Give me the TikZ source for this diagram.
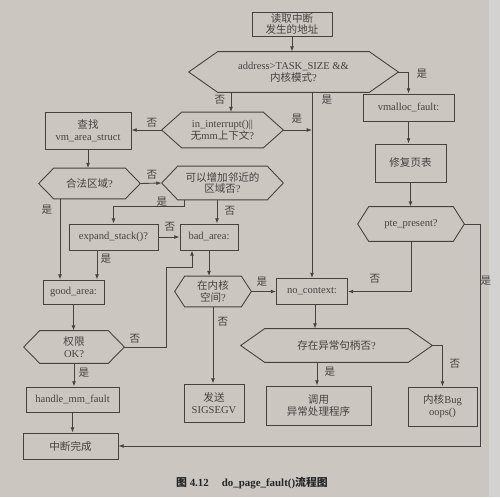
\documentclass[tikz,border=0pt]{standalone}
\usepackage{fontspec}
\setmainfont{Liberation Serif}
\newfontfamily\cjk{Noto Sans CJK SC}
\usetikzlibrary{arrows.meta,calc}
\definecolor{paper}{RGB}{203,198,192}
\definecolor{paperedge}{RGB}{212,210,208}
\definecolor{ink}{RGB}{70,66,64}
\newcommand\zh[1]{{\cjk #1}}
\newcommand\hexframe[2]{\draw[ln] (#1.west) -- ([xshift=#2]#1.north west) -- ([xshift=-#2]#1.north east) -- (#1.east) -- ([xshift=-#2]#1.south east) -- ([xshift=#2]#1.south west) -- cycle;}
\begin{document}
\begin{tikzpicture}[x=0.02cm,y=-0.02cm,
  every node/.style={font=\fontsize{6}{6.7}\selectfont, text=ink},
  box/.style={draw=ink, line width=0.5pt, rectangle, inner sep=0pt, align=center},
  hexa/.style={rectangle, inner sep=0pt, align=center},
  ln/.style={draw=ink, line width=0.5pt},
  arr/.style={ln, -{Latex[length=3pt,width=2.2pt]}},
  lab/.style={inner sep=0pt}]
\fill[paper] (0,0) rectangle (500,497);
\fill[paperedge] (489,0) rectangle (500,497);

% nodes
\node[box, minimum width=1.6cm, minimum height=0.48cm] (read) at (292,24) {\zh{读取中断}\\\zh{发生的地址}};
\node[hexa, minimum width=4.18cm, minimum height=0.8cm] (addr) at (293.5,72) {address>TASK\_SIZE \&\&\\\zh{内核模式}?};
\hexframe{addr}{0.58cm}
\node[box, minimum width=1.82cm, minimum height=0.54cm] (vmf) at (408.5,107.5) {vmalloc\_fault:};
\node[box, minimum width=1.42cm, minimum height=0.76cm] (fix) at (410.5,163) {\zh{修复页表}};
\node[hexa, minimum width=2.12cm, minimum height=0.68cm] (pte) at (411,224) {pte\_present?};
\hexframe{pte}{0.22cm}
\node[box, minimum width=1.42cm, minimum height=0.52cm] (noctx) at (312,291.5) {no\_context:};
\node[hexa, minimum width=2.42cm, minimum height=0.70cm] (intr) at (222.5,130) {in\_interrupt()||\\\zh{无}mm\zh{上下文}?};
\hexframe{intr}{0.4cm}
\node[box, minimum width=1.72cm, minimum height=0.74cm] (find) at (88,131) {\zh{查找}\\vm\_area\_struct};
\node[hexa, minimum width=2.02cm, minimum height=0.6cm] (legal) at (89.5,183.5) {\zh{合法区域}?};
\hexframe{legal}{0.3cm}
\node[hexa, minimum width=2.42cm, minimum height=0.66cm] (grow) at (222.5,183) {\zh{可以增加邻近的}\\\zh{区域否}?};
\hexframe{grow}{0.32cm}
\node[box, minimum width=1.78cm, minimum height=0.52cm] (expand) at (113.5,237) {expand\_stack()?};
\node[box, minimum width=1.16cm, minimum height=0.52cm] (bad) at (209,237) {bad\_area:};
\node[box, minimum width=1.22cm, minimum height=0.48cm] (good) at (73.5,292) {good\_area:};
\node[hexa, minimum width=2.0cm, minimum height=0.64cm] (perm) at (74,347) {\zh{权限}\\OK?};
\hexframe{perm}{0.32cm}
\node[hexa, minimum width=1.52cm, minimum height=0.6cm] (kern) at (213,291.5) {\zh{在内核}\\\zh{空间}?};
\hexframe{kern}{0.2cm}
\node[box, minimum width=1.2cm, minimum height=0.76cm] (sig) at (214,403) {\zh{发送}\\SIGSEGV};
\node[box, minimum width=1.86cm, minimum height=0.5cm] (hmf) at (72.5,399.5) {handle\_mm\_fault};
\node[box, minimum width=1.9cm, minimum height=0.52cm] (done) at (70.5,446) {\zh{中断完成}};
\node[hexa, minimum width=3.82cm, minimum height=0.66cm] (exh) at (336.5,345.5) {\zh{存在异常句柄否}?};
\hexframe{exh}{0.48cm}
\node[box, minimum width=2.1cm, minimum height=0.78cm] (call) at (318.5,405.5) {\zh{调用}\\\zh{异常处理程序}};
\node[box, minimum width=1.38cm, minimum height=0.78cm] (bug) at (442.5,406.5) {\zh{内核}Bug\\oops()};

% helper coordinates
\coordinate (a1) at (231,0);
\coordinate (g1) at (184,206);
\coordinate (g2) at (217,0);
\coordinate (e1) at (97,0);
\coordinate (c1) at (60,0);
\coordinate (p1) at (166,267);
\coordinate (p2) at (192,0);
\coordinate (r1) at (480,0);
\coordinate (n1) at (315,0);
\coordinate (x1) at (317,0);

% connectors
\draw[arr] (read.south) -- (read.south |- addr.north);
\draw[arr] (addr.east) -| (vmf.north);
\draw[arr] (noctx.north |- addr.south) -- (noctx.north);
\draw[arr] (addr.south -| a1) -- (intr.north -| a1);
\draw[arr] (intr.east) -- (intr.east -| noctx.north);
\draw[arr] (intr.west) -- (find.east |- intr.west);
\draw[arr] (find.south) -- (find.south |- legal.north);
\draw[arr] (legal.east) -- (grow.west);
\draw[arr] (grow.south -| g1) -- (g1) -| (expand.north);
\draw[arr] (grow.south -| g2) -- (bad.north -| g2);
\draw[arr] (expand.east) -- (bad.west);
\draw[arr] (expand.south -| e1) -- (good.north -| e1);
\draw[arr] (legal.south -| c1) -- (good.north -| c1);
\draw[arr] (good.south) -- (good.south |- perm.north);
\draw[arr] (perm.east) -| (p1) -| (bad.south -| p2);
\draw[arr] (bad.south) -- (bad.south |- kern.north);
\draw[arr] (kern.east) -- (noctx.west);
\draw[arr] (kern.south) -- (kern.south |- sig.north);
\draw[arr] (perm.south) -- (perm.south |- hmf.north);
\draw[arr] (hmf.south) -- (hmf.south |- done.north);
\draw[arr] (vmf.south) -- (vmf.south |- fix.north);
\draw[arr] (fix.south) -- (fix.south |- pte.north);
\draw[arr] (pte.south) |- (noctx.east);
\draw[arr] (pte.east) -| (r1 |- done.east) -- (done.east);
\draw[arr] (noctx.south -| n1) -- (exh.north -| n1);
\draw[arr] (exh.south -| x1) -- (call.north -| x1);
\draw[arr] (exh.east) -| (bug.north);

% labels
\node[lab] (t1) at (422,74) {\zh{是}};
\node[lab] (t2) at (327,100) {\zh{是}};
\node[lab] (t3) at (220,100) {\zh{否}};
\node[lab] (t4) at (297,119) {\zh{是}};
\node[lab] (t5) at (152,123) {\zh{否}};
\node[lab] (t6) at (152,175) {\zh{否}};
\node[lab] (t7) at (162,202) {\zh{是}};
\node[lab] (t8) at (230,211) {\zh{否}};
\node[lab] (t9) at (170,227) {\zh{否}};
\node[lab] (t10) at (106,259) {\zh{是}};
\node[lab] (t11) at (47,210) {\zh{是}};
\node[lab] (t12) at (135,339) {\zh{否}};
\node[lab] (t13) at (262,282) {\zh{是}};
\node[lab] (t14) at (223,322) {\zh{否}};
\node[lab] (t15) at (84,373) {\zh{是}};
\node[lab] (t16) at (375,279) {\zh{否}};
\node[lab] (t17) at (486,281) {\zh{是}};
\node[lab] (t18) at (330,372) {\zh{是}};
\node[lab] (t19) at (455,364) {\zh{否}};

% caption
\node[lab, text=black!85] (cap) at (252,483) {\fontsize{6.2}{7}\selectfont\bfseries \zh{图} 4.12\hspace{1.2em}do\_page\_fault()\zh{流程图}};
\end{tikzpicture}
\end{document}
